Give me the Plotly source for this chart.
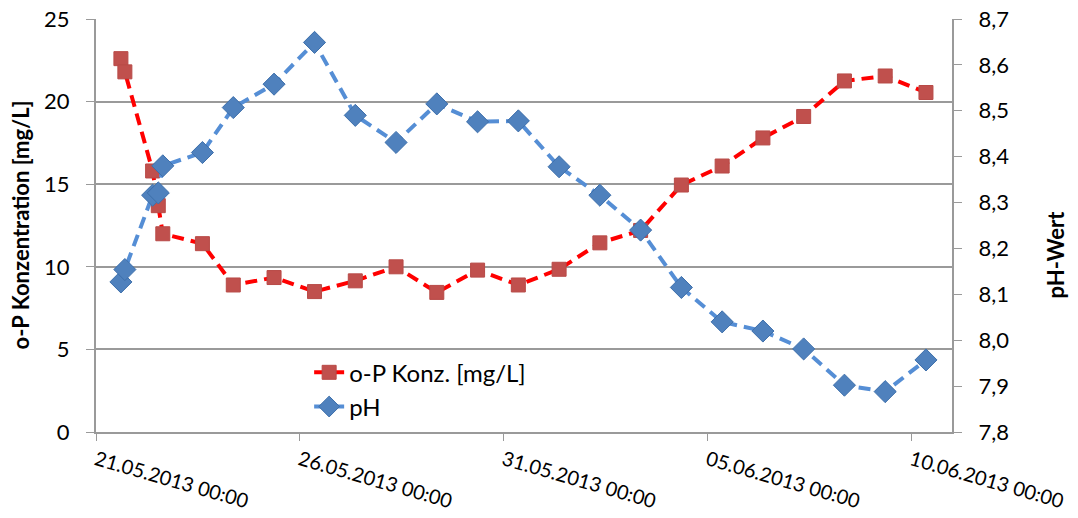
import plotly.graph_objects as go

# Messzeitpunkte
zeit = ["2013-05-21 14:40", "2013-05-21 17:00", "2013-05-22 09:20", "2013-05-22 12:40",
        "2013-05-22 15:20", "2013-05-23 14:40", "2013-05-24 08:50", "2013-05-25 08:50",
        "2013-05-26 08:40", "2013-05-27 08:40", "2013-05-28 08:40", "2013-05-29 08:40",
        "2013-05-30 08:40", "2013-05-31 08:40", "2013-06-01 08:40", "2013-06-02 08:40",
        "2013-06-03 08:40", "2013-06-04 08:40", "2013-06-05 08:40", "2013-06-06 08:40",
        "2013-06-07 08:40", "2013-06-08 08:40", "2013-06-09 08:40", "2013-06-10 08:40"]
op_konz = [22.6, 21.8, 15.8, 13.7, 12.0, 11.4, 8.9, 9.35, 8.5, 9.15, 10.0, 8.45,
           9.8, 8.9, 9.85, 11.45, 12.2, 14.95, 16.1, 17.8, 19.1, 21.25, 21.55, 20.55]
ph = [8.127, 8.154, 8.316, 8.321, 8.38, 8.409, 8.507, 8.558, 8.649, 8.49, 8.431, 8.515,
      8.476, 8.478, 8.378, 8.316, 8.24, 8.115, 8.04, 8.02, 7.981, 7.902, 7.888, 7.957]

x_ticks = ["2013-05-21", "2013-05-26", "2013-05-31", "2013-06-05", "2013-06-10"]
x_labels = ["21.05.2013 00:00", "26.05.2013 00:00", "31.05.2013 00:00",
            "05.06.2013 00:00", "10.06.2013 00:00"]
y2_ticks = [7.8, 7.9, 8.0, 8.1, 8.2, 8.3, 8.4, 8.5, 8.6, 8.7]
y2_labels = ["7,8", "7,9", "8,0", "8,1", "8,2", "8,3", "8,4", "8,5", "8,6", "8,7"]

font = "Lato, 'Open Sans', sans-serif"
grau = "#9a9a9a"

fig = go.Figure()
fig.add_trace(go.Scatter(x=zeit, y=op_konz, mode="lines+markers", name="o-P Konz. [mg/L]",
                         line=dict(color="#ff0000", width=4, dash="12px,7px"),
                         marker=dict(symbol="square", size=14, color="#c0504d",
                                     line=dict(color="#b84a47", width=1))))
fig.add_trace(go.Scatter(x=zeit, y=ph, mode="lines+markers", name="pH", yaxis="y2",
                         line=dict(color="#558ed5", width=4, dash="12px,7px"),
                         marker=dict(symbol="diamond", size=17, color="#4f81bd",
                                     line=dict(color="#3d6fab", width=1))))

fig.update_layout(
    width=1078, height=518,
    margin=dict(l=96, r=126, t=19, b=86),
    plot_bgcolor="white", paper_bgcolor="white",
    font=dict(family=font, color="black"),
    showlegend=True,
    legend=dict(x=0.249, y=0.198, xanchor="left", yanchor="top", bgcolor="rgba(0,0,0,0)",
                font=dict(size=24), tracegroupgap=0),
    xaxis=dict(type="date", range=["2013-05-21", "2013-06-11"], automargin=False,
               tickvals=x_ticks, ticktext=x_labels, tickangle=16,
               tickfont=dict(size=20), ticks="outside", ticklen=7, tickcolor=grau,
               showline=True, linecolor=grau, linewidth=2, showgrid=False, zeroline=False),
    yaxis=dict(range=[0, 25], tickvals=[0, 5, 10, 15, 20, 25], tickfont=dict(size=22),
               automargin=False,
               ticks="outside", ticklen=8, tickcolor=grau, ticklabelstandoff=12,
               showline=True, linecolor=grau, linewidth=2,
               showgrid=True, gridcolor=grau, gridwidth=2, zeroline=False),
    yaxis2=dict(range=[7.8, 8.7], overlaying="y", side="right", automargin=False,
                tickvals=y2_ticks, ticktext=y2_labels, tickfont=dict(size=22),
                ticks="outside", ticklen=8, tickcolor=grau, ticklabelstandoff=12,
                showline=True, linecolor=grau, linewidth=2, showgrid=False, zeroline=False),
    annotations=[
        dict(text="<b>o-P Konzentration [mg/L]</b>", textangle=-90, xref="paper", yref="paper",
             x=0.0, xshift=-76, y=0.5, xanchor="center", yanchor="middle",
             showarrow=False, font=dict(size=22)),
        dict(text="<b>pH-Wert</b>", textangle=-90, xref="paper", yref="paper",
             x=1.0, xshift=103, y=0.43, xanchor="center", yanchor="middle",
             showarrow=False, font=dict(size=22)),
    ],
)

# Seitenrand entfernen, damit die Grafik das Fenster genau fuellt
fig.write_html("out.html", config={"displayModeBar": False},
               post_script="document.body.style.margin = '0';")
